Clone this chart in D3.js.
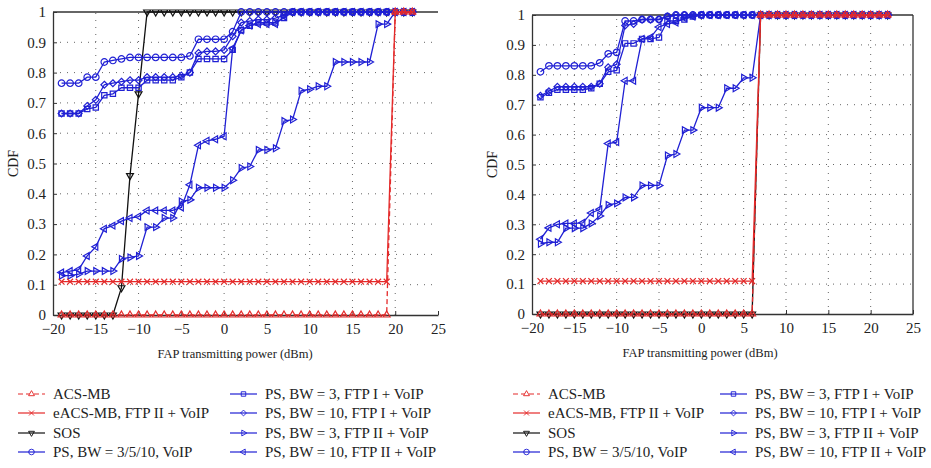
<!DOCTYPE html>
<html>
<head>
<meta charset="utf-8">
<script src="https://cdn.jsdelivr.net/npm/d3@7"></script>
<style>
  body { margin: 0; background: #fff; }
</style>
</head>
<body>
<div class="chart"></div>
<script>
// x sample points (dBm)
const dBm = [-19,-18,-17,-16,-15,-14,-13,-12,-11,-10,-9,-8,-7,-6,-5,-4,-3,-2,-1,0,
             1,2,3,4,5,6,7,8,9,10,11,12,13,14,15,16,17,18,19,20,21,22];

const xTicks = [-20,-15,-10,-5,0,5,10,15,20,25];
const yTicks = [0,0.1,0.2,0.3,0.4,0.5,0.6,0.7,0.8,0.9,1];
const yTickLabels = ["0","0.1","0.2","0.3","0.4","0.5","0.6","0.7","0.8","0.9","1"];

const seriesNames = ["ACS-MB", "eACS-MB, FTP II + VoIP", "SOS", "PS, BW = 3/5/10, VoIP",
  "PS, BW = 3, FTP I + VoIP", "PS, BW = 10, FTP I + VoIP", "PS, BW = 3, FTP II + VoIP", "PS, BW = 10, FTP II + VoIP"];

// left panel
const leftAcs  = [0,0,0,0,0,0,0,0,0,0,0,0,0,0,0,0,0,0,0,0,0,0,0,0,0,0,0,0,0,0,0,0,0,0,0,0,0,0,0,1,1,1];
const leftEacs = [0.11,0.11,0.11,0.11,0.11,0.11,0.11,0.11,0.11,0.11,0.11,0.11,0.11,0.11,0.11,0.11,0.11,0.11,0.11,0.11,
                  0.11,0.11,0.11,0.11,0.11,0.11,0.11,0.11,0.11,0.11,0.11,0.11,0.11,0.11,0.11,0.11,0.11,0.11,0.11,1,1,1];
const leftSos  = [0,0,0,0,0,0,0,0.09,0.46,0.73,1,1,1,1,1,1,1,1,1,1,1,1,1,1,1,1,1,1,1,1,1,1,1,1,1,1,1,1,1,1,1,1];
const leftVoip = [0.765,0.765,0.765,0.785,0.785,0.835,0.84,0.845,0.85,0.85,0.85,0.85,0.85,0.85,0.85,0.855,0.91,0.91,0.91,0.91,
                  0.935,1,1,1,1,1,1,1,1,1,1,1,1,1,1,1,1,1,1,1,1,1];
const leftBw3Ftp1 = [0.665,0.665,0.665,0.68,0.685,0.725,0.73,0.75,0.75,0.75,0.775,0.775,0.775,0.775,0.785,0.8,0.845,0.845,0.845,0.845,
                     0.875,0.94,0.955,0.965,0.965,0.965,0.98,1,1,1,1,1,1,1,1,1,1,1,1,1,1,1];
const leftBw10Ftp1 = [0.665,0.665,0.665,0.69,0.71,0.76,0.765,0.77,0.775,0.775,0.785,0.785,0.785,0.785,0.79,0.8,0.865,0.87,0.87,0.875,
                      0.92,0.965,0.97,0.975,0.975,0.98,0.99,1,1,1,1,1,1,1,1,1,1,1,1,1,1,1];
const leftBw3Ftp2 = [0.13,0.13,0.135,0.145,0.145,0.145,0.145,0.185,0.19,0.195,0.29,0.29,0.32,0.32,0.375,0.38,0.42,0.42,0.42,0.42,
                     0.445,0.485,0.49,0.545,0.545,0.55,0.64,0.645,0.74,0.745,0.755,0.755,0.835,0.835,0.835,0.835,0.835,0.96,0.96,1,1,1];
const leftBw10Ftp2 = [0.14,0.145,0.15,0.195,0.225,0.285,0.295,0.31,0.32,0.325,0.345,0.345,0.345,0.345,0.355,0.43,0.56,0.575,0.58,0.59,
                      0.88,0.94,0.955,0.96,0.96,0.96,0.985,1,1,1,1,1,1,1,1,1,1,1,1,1,1,1];

// right panel
const rightAcs  = [0,0,0,0,0,0,0,0,0,0,0,0,0,0,0,0,0,0,0,0,0,0,0,0,0,0,1,1,1,1,1,1,1,1,1,1,1,1,1,1,1,1];
const rightEacs = [0.11,0.11,0.11,0.11,0.11,0.11,0.11,0.11,0.11,0.11,0.11,0.11,0.11,0.11,0.11,0.11,0.11,0.11,0.11,0.11,
                   0.11,0.11,0.11,0.11,0.11,0.11,1,1,1,1,1,1,1,1,1,1,1,1,1,1,1,1];
const rightSos  = [0,0,0,0,0,0,0,0,0,0,0,0,0,0,0,0,0,0,0,0,0,0,0,0,0,0,1,1,1,1,1,1,1,1,1,1,1,1,1,1,1,1];
const rightVoip = [0.81,0.83,0.83,0.83,0.83,0.83,0.83,0.84,0.87,0.875,0.98,0.98,0.985,0.985,0.985,0.995,1,1,1,1,
                   1,1,1,1,1,1,1,1,1,1,1,1,1,1,1,1,1,1,1,1,1,1];
const rightBw3Ftp1 = [0.725,0.74,0.75,0.75,0.75,0.75,0.755,0.77,0.81,0.815,0.905,0.905,0.92,0.92,0.925,0.98,0.98,0.985,0.995,1,
                      1,1,1,1,1,1,1,1,1,1,1,1,1,1,1,1,1,1,1,1,1,1];
const rightBw10Ftp1 = [0.73,0.745,0.76,0.76,0.76,0.76,0.76,0.77,0.825,0.835,0.965,0.97,0.985,0.985,0.985,0.995,1,1,1,1,
                       1,1,1,1,1,1,1,1,1,1,1,1,1,1,1,1,1,1,1,1,1,1];
const rightBw3Ftp2 = [0.235,0.24,0.24,0.287,0.287,0.287,0.303,0.328,0.365,0.37,0.39,0.39,0.43,0.43,0.43,0.53,0.535,0.615,0.615,0.69,
                      0.69,0.69,0.755,0.755,0.79,0.79,1,1,1,1,1,1,1,1,1,1,1,1,1,1,1,1];
const rightBw10Ftp2 = [0.25,0.288,0.3,0.303,0.303,0.305,0.338,0.35,0.57,0.575,0.78,0.78,0.92,0.925,0.96,0.97,0.975,0.99,0.995,1,
                       1,1,1,1,1,1,1,1,1,1,1,1,1,1,1,1,1,1,1,1,1,1];

const blue = "#2020d4", red = "#e42a2a", black = "#111";
const serif = "Liberation Serif, Times New Roman, DejaVu Serif, serif";

// style of each series, in legend order
const styles = [
  {color: red,   marker: "triUp",    dash: "5,3"},
  {color: red,   marker: "x",        dash: null},
  {color: black, marker: "triDown",  dash: null},
  {color: blue,  marker: "circle",   dash: null},
  {color: blue,  marker: "square",   dash: null},
  {color: blue,  marker: "diamond",  dash: null},
  {color: blue,  marker: "triRight", dash: null},
  {color: blue,  marker: "triLeft",  dash: null}
];

const leftData  = [leftAcs, leftEacs, leftSos, leftVoip, leftBw3Ftp1, leftBw10Ftp1, leftBw3Ftp2, leftBw10Ftp2];
const rightData = [rightAcs, rightEacs, rightSos, rightVoip, rightBw3Ftp1, rightBw10Ftp1, rightBw3Ftp2, rightBw10Ftp2];

const svg = d3.select(".chart").append("svg")
  .attr("width", 931)
  .attr("height", 468)
  .style("font-family", serif);

function markerPath(m) {
  if (m === "circle") return d3.symbol(d3.symbolCircle, 34)();
  if (m === "square") return d3.symbol(d3.symbolSquare, 28)();
  if (m === "diamond") return d3.symbol(d3.symbolDiamond2, 30)();
  if (m === "x") return d3.symbol(d3.symbolX, 24)();
  return d3.symbol(d3.symbolTriangle2, 34)();
}
function markerRotate(m) {
  if (m === "triDown") return 180;
  if (m === "triRight") return 90;
  if (m === "triLeft") return -90;
  return 0;
}

// draw one panel
function drawPanel(left, right, top, bottom, data, drawRightBorder, titleX) {
  const x = d3.scaleLinear().domain([-20, 25]).range([left, right]);
  const y = d3.scaleLinear().domain([0, 1]).range([bottom, top]);
  const g = svg.append("g");

  // dotted grid
  g.selectAll(".vgrid")
    .data(xTicks.slice(1, -1))
    .enter().append("line")
    .attr("x1", d => x(d)).attr("x2", d => x(d))
    .attr("y1", y(0)).attr("y2", y(1))
    .attr("stroke", "#666").attr("stroke-width", 1)
    .attr("stroke-dasharray", "1,6");
  g.selectAll(".hgrid")
    .data(yTicks.slice(1, -1))
    .enter().append("line")
    .attr("x1", x(-20)).attr("x2", x(25))
    .attr("y1", d => y(d)).attr("y2", d => y(d))
    .attr("stroke", "#666").attr("stroke-width", 1)
    .attr("stroke-dasharray", "1,6");

  // box lines
  g.append("line").attr("x1", x(-20)).attr("x2", x(25)).attr("y1", y(1)).attr("y2", y(1))
    .attr("stroke", "#333").attr("stroke-width", 1.3);
  if (drawRightBorder) {
    g.append("line").attr("x1", x(25)).attr("x2", x(25)).attr("y1", y(1)).attr("y2", y(0))
      .attr("stroke", "#333").attr("stroke-width", 1.3);
  }

  // axes
  const xAxis = d3.axisBottom(x).tickValues(xTicks).tickSizeInner(-4).tickSizeOuter(0).tickPadding(8);
  const yAxis = d3.axisLeft(y).tickValues(yTicks).tickSizeInner(-4).tickSizeOuter(0).tickPadding(7)
    .tickFormat((d, i) => yTickLabels[i]);

  const gx = g.append("g").attr("transform", `translate(0, ${bottom})`).call(xAxis);
  const gy = g.append("g").attr("transform", `translate(${left}, 0)`).call(yAxis);
  [gx, gy].forEach(a => {
    a.attr("font-family", null).attr("font-size", null);
    a.selectAll("path").attr("stroke", "#333").attr("stroke-width", 1.3);
    a.selectAll("line").attr("stroke", "#333");
    a.selectAll("text").attr("fill", "#222")
      .style("font-family", serif).style("font-size", "15px");
  });

  // series: black first, then blue, then red on top
  const order = [2, 3, 4, 5, 6, 7, 1, 0];
  order.forEach(k => {
    const st = styles[k];
    const pts = dBm.map((d, i) => [d, data[k][i]]);
    g.append("path")
      .datum(pts)
      .attr("fill", "none")
      .attr("stroke", st.color)
      .attr("stroke-width", 1.3)
      .attr("stroke-dasharray", st.dash)
      .attr("d", d3.line().x(d => x(d[0])).y(d => y(d[1])));
    g.selectAll(null)
      .data(pts)
      .enter().append("path")
      .attr("d", markerPath(st.marker))
      .attr("transform", d => `translate(${x(d[0])},${y(d[1])}) rotate(${markerRotate(st.marker)})`)
      .attr("fill", "none")
      .attr("stroke", st.color)
      .attr("stroke-width", 1.2);
  });

  // axis titles
  g.append("text")
    .attr("x", titleX)
    .attr("y", bottom + 43)
    .attr("text-anchor", "middle")
    .style("font-family", serif)
    .style("font-size", "12.5px")
    .attr("fill", "#222")
    .text("FAP transmitting power (dBm)");
  g.append("text")
    .attr("transform", `translate(${left - 35}, ${(top + bottom) / 2}) rotate(-90)`)
    .attr("text-anchor", "middle")
    .style("font-family", serif)
    .style("font-size", "14px")
    .attr("fill", "#222")
    .text("CDF");
}

drawPanel(53, 438, 12, 315, leftData, false, 235);
drawPanel(532, 913, 15, 314, rightData, true, 700);

// legends
function drawLegend(col1x, col2x, rows) {
  seriesNames.forEach((name, i) => {
    const st = styles[i];
    const cx = i < 4 ? col1x : col2x;
    const cy = rows[i % 4];
    const lg = svg.append("g").attr("transform", `translate(${cx}, ${cy})`);
    lg.append("line")
      .attr("x1", 0).attr("x2", 27)
      .attr("stroke", st.color).attr("stroke-width", 1.2)
      .attr("stroke-dasharray", st.dash);
    lg.append("path")
      .attr("d", markerPath(st.marker))
      .attr("transform", `translate(13.5, 0) rotate(${markerRotate(st.marker)}) scale(0.85)`)
      .attr("fill", st.dash ? "#fff" : "none")
      .attr("stroke", st.color).attr("stroke-width", 1.1);
    lg.append("text")
      .attr("x", 35).attr("y", 5)
      .style("font-family", serif)
      .style("font-size", "15px")
      .attr("fill", "#222")
      .text(name);
  });
}
drawLegend(18, 230, [394, 413, 433, 452]);
drawLegend(513, 720, [394, 413, 433, 452]);
</script>
</body>
</html>
